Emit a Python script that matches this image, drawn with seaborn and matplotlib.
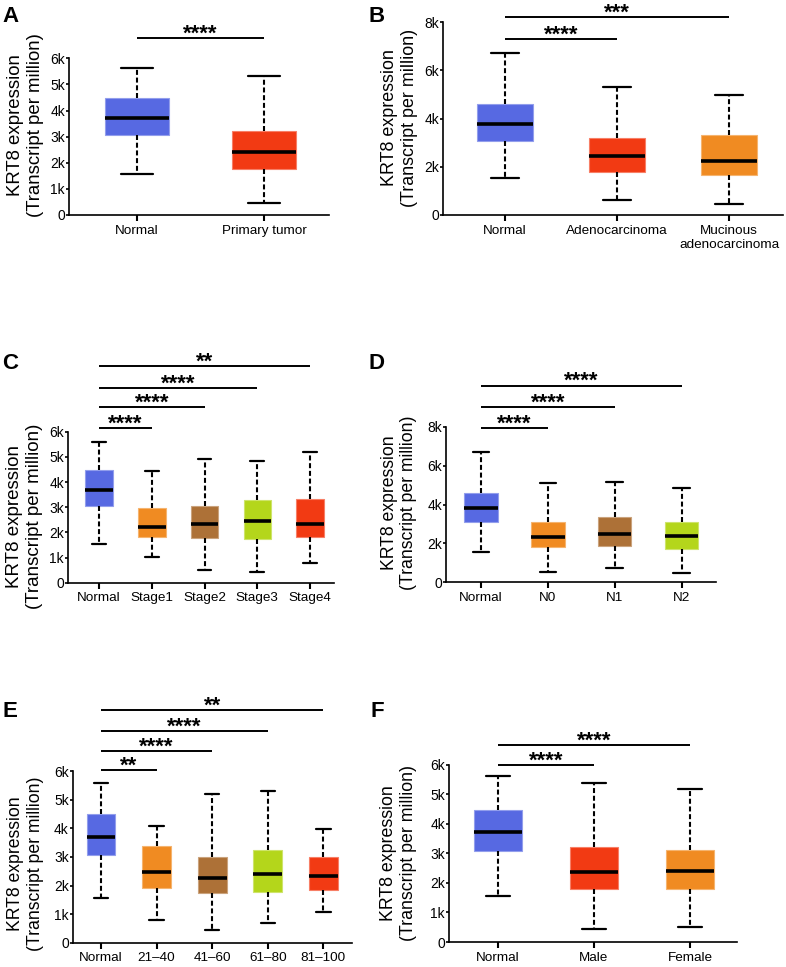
import numpy as np
import pandas as pd
import matplotlib.pyplot as plt
import matplotlib.colors as mcolors
import seaborn as sns

# box statistics: [lower whisker, Q1, median, Q3, upper whisker] (TPM)
blue, red, orange, brown, lime = '#5769E2', '#F23A13', '#F08B22', '#AD7137', '#B4D61B'

a_groups = ['Normal', 'Primary tumor']
a_stats = [[1570, 3060, 3730, 4490, 5620], [450, 1770, 2400, 3230, 5320]]
a_colors = [blue, red]
a_sig = [(1, '****', 6790)]

b_groups = ['Normal', 'Adenocarcinoma', 'Mucinous\nadenocarcinoma']
b_stats = [[1550, 3080, 3780, 4620, 6710], [640, 1780, 2430, 3210, 5300],
           [460, 1670, 2240, 3330, 4970]]
b_colors = [blue, red, orange]
b_sig = [(1, '****', 7320), (2, '***', 8220)]

c_groups = ['Normal', 'Stage1', 'Stage2', 'Stage3', 'Stage4']
c_stats = [[1540, 3060, 3680, 4480, 5590], [1020, 1830, 2230, 2950, 4450],
           [500, 1770, 2320, 3030, 4910], [420, 1740, 2460, 3270, 4820],
           [790, 1800, 2330, 3310, 5180]]
c_colors = [blue, orange, brown, lime, red]
c_sig = [(1, '****', 6130), (2, '****', 6970), (3, '****', 7750), (4, '**', 8610)]

d_groups = ['Normal', 'N0', 'N1', 'N2']
d_stats = [[1550, 3100, 3800, 4610, 6710], [500, 1790, 2310, 3080, 5110],
           [710, 1860, 2480, 3340, 5180], [450, 1720, 2360, 3080, 4840]]
d_colors = [blue, orange, brown, lime]
d_sig = [(1, '****', 7970), (2, '****', 9040), (3, '****', 10140)]

e_groups = ['Normal', '21–40', '41–60', '61–80', '81–100']
e_stats = [[1560, 3060, 3700, 4490, 5600], [810, 1930, 2460, 3370, 4100],
           [430, 1740, 2250, 3010, 5190], [680, 1770, 2400, 3260, 5310],
           [1090, 1840, 2330, 2990, 3980]]
e_colors = [blue, orange, brown, lime, red]
e_sig = [(1, '**', 6060), (2, '****', 6720), (3, '****', 7420), (4, '**', 8150)]

f_groups = ['Normal', 'Male', 'Female']
f_stats = [[1560, 3080, 3720, 4480, 5610], [450, 1780, 2380, 3210, 5390],
           [500, 1790, 2400, 3100, 5190]]
f_colors = [blue, red, orange]
f_sig = [(1, '****', 5990), (2, '****', 6660)]

ticks_6k = [0, 1000, 2000, 3000, 4000, 5000, 6000]
labels_6k = ['0', '1k', '2k', '3k', '4k', '5k', '6k']
ticks_8k = [0, 2000, 4000, 6000, 8000]
labels_8k = ['0', '2k', '4k', '6k', '8k']

sns.set_style('ticks')
plt.rcParams['font.family'] = ['Liberation Sans', 'DejaVu Sans']
plt.rcParams['text.color'] = 'black'
plt.rcParams['axes.labelcolor'] = 'black'

W, H = 786, 967
fig = plt.figure(figsize=(W / 100, H / 100), dpi=100)


def lighten(c, f=0.35):
    r = np.array(mcolors.to_rgb(c))
    return tuple(r + (1 - r) * f)


def panel(rect, groups, stats, colors, sig, ticks, ticklabels, xlim, width,
          lab_x, lab_y, lab_size):
    l, r, t, b = rect
    ax = fig.add_axes([l / W, 1 - b / H, (r - l) / W, (b - t) / H])
    df = pd.DataFrame({'group': np.repeat(groups, 5),
                       'tpm': np.concatenate(stats)})
    sns.boxplot(data=df, x='group', y='tpm', hue='group', order=groups,
                hue_order=groups, palette=colors, saturation=1, width=width,
                whis=(0, 100), linecolor='black', legend=False, ax=ax,
                whiskerprops=dict(linestyle=(0, (2.4, 1.3)), linewidth=1.5),
                capprops=dict(linewidth=1.6),
                medianprops=dict(linewidth=2.6))
    for patch, c in zip(ax.patches, colors):
        patch.set_edgecolor(lighten(c))
        patch.set_linewidth(0.8)
    ax.set_ylim(0, ticks[-1])
    ax.set_xlim(*xlim)
    ax.set_yticks(ticks)
    ax.set_yticklabels(ticklabels)
    ax.set_xlabel('')
    ax.set_ylabel('KRT8 expression\n(Transcript per million)', fontsize=lab_size,
                  color='black')
    ax.yaxis.set_label_coords(-lab_x / (r - l), lab_y)
    sns.despine(ax=ax)
    for s in ['left', 'bottom']:
        ax.spines[s].set_linewidth(1.2)
        ax.spines[s].set_color('black')
    ax.tick_params(axis='y', length=2, width=1.2, pad=0.8, labelsize=10,
                   colors='black')
    ax.tick_params(axis='x', length=4, width=1.5, pad=3, labelsize=9.7,
                   colors='black')
    for j, stars, yv in sig:
        ax.plot([0, j], [yv, yv], color='black', lw=1.4, clip_on=False,
                solid_capstyle='butt')
        ax.annotate(stars, xy=(j / 2, yv), xytext=(0, -1.2),
                    textcoords='offset points', ha='center', va='baseline',
                    fontsize=16, fontweight='bold', annotation_clip=False)
    return ax


panel((69, 329, 58.3, 215), a_groups, a_stats, a_colors, a_sig, ticks_6k, labels_6k,
      (-0.535, 1.51), 0.5, 25, 0.574, 13.4)
panel((443, 783, 22.3, 215), b_groups, b_stats, b_colors, b_sig, ticks_8k, labels_8k,
      (-0.554, 2.48), 0.5, 25, 0.506, 12.9)
panel((68, 334, 431.7, 582.7), c_groups, c_stats, c_colors, c_sig, ticks_6k, labels_6k,
      (-0.59, 4.455), 0.52, 25, 0.44, 13.5)
panel((446.3, 715.7, 427, 582), d_groups, d_stats, d_colors, d_sig, ticks_8k, labels_8k,
      (-0.52, 3.51), 0.5, 29, 0.513, 12.7)
panel((72.7, 351.7, 771.3, 942.7), e_groups, e_stats, e_colors, e_sig, ticks_6k, labels_6k,
      (-0.51, 4.51), 0.52, 29, 0.459, 12.7)
panel((449, 737, 764.7, 942), f_groups, f_stats, f_colors, f_sig, ticks_6k, labels_6k,
      (-0.51, 2.49), 0.5, 32, 0.502, 12.8)

for letter, x, y in [('A', 2, 22), ('B', 368, 22), ('C', 2, 369), ('D', 368, 369),
                     ('E', 3, 717), ('F', 371, 717)]:
    fig.text(x / W, 1 - y / H, letter, fontsize=16, fontweight='bold', va='baseline')

fig.savefig('out.png', dpi=100)
